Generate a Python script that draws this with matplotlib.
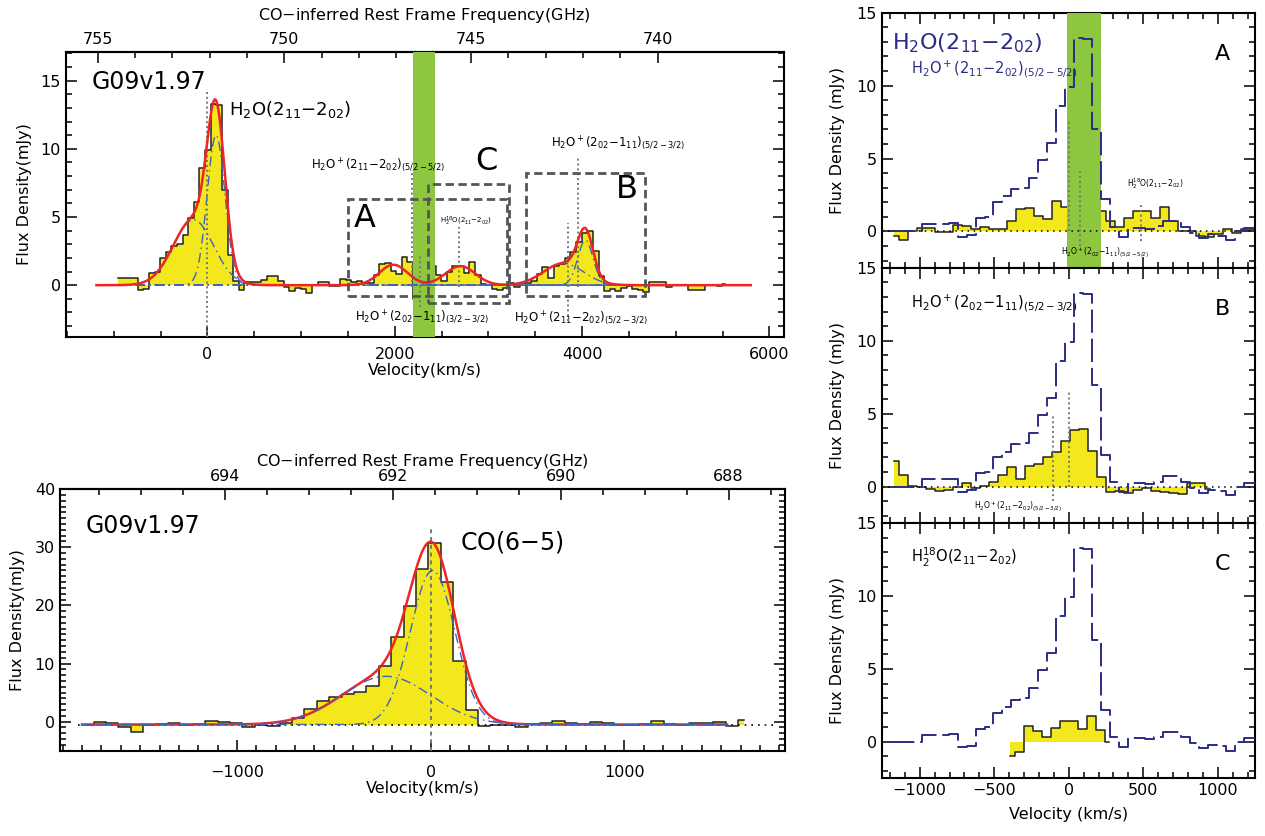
import numpy as np
import matplotlib
matplotlib.use('Agg')
import matplotlib.pyplot as plt
from matplotlib.patches import Rectangle
from matplotlib.ticker import MultipleLocator, FixedLocator

plt.rcParams['font.family'] = ['DejaVu Sans']
plt.rcParams['mathtext.fontset'] = 'dejavusans'

# ---------------- data ----------------
# H2O(2_11-2_02) spectrum of G09v1.97, channel centres every 60 km/s
h2o_vel = 5 + 60 * np.arange(-20, 93)
h2o_flux = np.array([
    0, 0, 0, 0, 0.5, 0.5, 0.5, 0.55, -0.35, -0.25,
    0.9, 1.0, 2.0, 2.4, 2.9, 3.0, 3.7, 4.9, 6.1, 8.6,
    9.9, 13.3, 13.2, 7.0, 2.2, 0.3, -0.35, 0.25, 0.25, 0.2,
    0.35, 0.7, 0.7, 0.3, -0.1, -0.45, -0.2, -0.3, -0.6, 0.0,
    0.25, 0.25, -0.05, -0.05, 0.45, 0.4, 0.2, 0.3, 0.15, 0.15,
    0.75, 1.55, 1.6, 1.05, 0.85, 2.1, 1.7, -1.0, -0.7, -0.35,
    1.4, 0.75, 0.3, 0.95, 1.4, 1.4, 0.9, 1.7, 0.75, 0.05,
    0.0, -0.3, -0.35, -0.2, 0.15, -0.1, 0.15, 0.15, 0.3, 0.8,
    1.33, 0.53, 1.42, 1.55, 2.0, 2.4, 3.15, 3.85, 3.95, 2.47,
    0.64, -0.4, -0.27, -0.45, -0.23, -0.07, -0.27, -0.35, -0.5, 0.23,
    0.23, 0.2, -0.1, 0.0, 0.0, 0.0, -0.35, -0.35, -0.35, 0.0,
    0.0, -0.05, 0.12])

# zoomed spectra, velocity relative to each line
a_vel = -20.75 + 60.5 * np.arange(-19, 22)
a_flux = [-0.3, -0.6, 0.0, 0.25, 0.25, -0.05, -0.05, 0.45, 0.4, 0.2,
          0.3, 0.15, 0.15, 0.75, 1.55, 1.6, 1.05, 0.85, 2.1, 1.7,
          -1.0, -0.7, -0.35, 1.4, 0.75, 0.3, 0.95, 1.4, 1.4, 0.9,
          1.7, 0.75, 0.05, 0.0, -0.3, -0.35, -0.2, 0.15, -0.1, 0.15, 0.15]
b_vel = -1170.75 + 60.5 * np.arange(36)
b_flux = [1.76, 0.8, 0.07, 0.0, -0.15, -0.27, -0.2, -0.05, 0.23, -0.1,
          0.07, 0.3, 0.8, 1.33, 0.53, 1.42, 1.55, 2.0, 2.4, 3.15,
          3.85, 3.95, 2.47, 0.64, -0.4, -0.27, -0.45, -0.23, -0.07, -0.27,
          -0.35, -0.45, -0.53, 0.23, 0.23, -0.15]
c_vel = -393 + 60.5 * np.arange(12)
c_flux = [-1.0, -0.7, 1.1, 0.75, 0.3, 0.95, 1.4, 1.4, 0.9, 1.75, 0.8, 0.0]

# CO(6-5) spectrum, channel centres every 64 km/s
co_vel = 20 + 64 * np.arange(-28, 26)
co_flux = [-0.5, 0.0, -0.3, -1.0, -1.7, -0.5, -0.45, -0.3, -0.5, -0.35,
           0.1, 0.0, -0.3, -0.85, -0.5, -0.7, -0.2, 0.7, 2.2, 3.5,
           4.3, 4.8, 5.1, 6.2, 9.5, 14.5, 19.9, 26.3, 30.8, 24.0,
           10.4, 2.0, -0.75, -0.5, -0.5, -0.85, -0.4, -0.3, 0.1, -0.3,
           -0.35, -0.1, -0.3, -0.5, -0.5, -0.4, 0.05, -0.4, -0.5, -0.3,
           -0.3, 0.0, -0.8, 0.3]

# gaussian fit components: centre (km/s), peak (mJy), sigma (km/s)
h2o_fit_cen = [-150, 92, 1985, 2700, 3800, 4035]
h2o_fit_amp = [4.8, 11.0, 1.5, 1.4, 1.6, 3.3]
h2o_fit_sig = [215, 95, 150, 160, 215, 82]
co_fit_cen = [-230, 10]
co_fit_amp = [8.3, 26.5]
co_fit_sig = [230, 115]
co_base = -0.5

# rest frequencies used for the top axes (GHz)
f0_h2o = 752.06
f0_co = 691.548
c_kms = 299792.458
freq_ticks_h2o = [755, 750, 745, 740]
freq_ticks_co = [694, 692, 690, 688]

YELLOW = '#f2e81c'
GREEN = '#8dc63f'
RED = '#ee2427'
BLUE = '#3f62c0'
NAVY = '#2b2d84'
GREY = '#777777'

FS = 11.5


def gauss(v, c, a, s):
    return a * np.exp(-0.5 * ((v - c) / s) ** 2)


def spectrum(ax, v, f, base=0.0):
    ax.fill_between(v, f, base, step='mid', color=YELLOW, lw=0, zorder=1)
    ax.plot(v, f, drawstyle='steps-mid', color='#222222', lw=1.1, zorder=2)


def style(ax):
    for s in ax.spines.values():
        s.set_linewidth(1.5)
    ax.tick_params(which='both', direction='in', labelsize=FS, width=1.1)
    ax.tick_params(which='major', length=8)
    ax.tick_params(which='minor', length=4)


fig = plt.figure(figsize=(12.65, 8.36), dpi=100)

# ---------------- top-left: H2O spectrum ----------------
ax1 = fig.add_axes([0.0518, 0.5969, 0.5676, 0.3409])
m = h2o_vel > -990
spectrum(ax1, h2o_vel[m], h2o_flux[m])
ax1.axvspan(2190, 2430, color=GREEN, lw=0, zorder=3)

vfit = np.linspace(-1185, 5800, 2000)
comps = [gauss(vfit, c, a, s) for c, a, s in zip(h2o_fit_cen, h2o_fit_amp, h2o_fit_sig)]
for comp in comps:
    ax1.plot(vfit, comp, color=BLUE, lw=1.0, ls=(0, (7, 3, 1, 3)), zorder=4)
ax1.plot(vfit, np.sum(comps, axis=0), color=RED, lw=1.8, zorder=5)

for v, y0, y1 in [(0, -3.8, 14.4), (2187, -0.1, 8.45), (2272, -1.6, 2.2),
                  (2688, -0.15, 4.3), (3957, -0.1, 9.4), (3851, -2.6, 4.55)]:
    ax1.vlines(v, y0, y1, colors=GREY, linestyles=(0, (1, 1.5)), lw=1.4, zorder=4)

for (x0, y0, x1, y1) in [(1504, -0.8, 3200, 6.3), (2357, -1.3, 3221, 7.4), (3403, -0.8, 4672, 8.2)]:
    ax1.add_patch(Rectangle((x0, y0), x1 - x0, y1 - y0, fill=False, ec='#555555',
                            lw=2, ls=(0, (3, 1.6)), zorder=6))

ax1.text(-1237, 14.9, 'G09v1.97', fontsize=17, va='center', ha='left')
ax1.text(235, 12.9, r'H$_2$O(2$_{11}$$-$2$_{02}$)', fontsize=13, va='center')
ax1.text(1110, 8.8, r'H$_2$O$^+$(2$_{11}$$-$2$_{02}$)$_{(5/2-5/2)}$', fontsize=8.5, va='center')
ax1.text(1580, -2.35, r'H$_2$O$^+$(2$_{02}$$-$1$_{11}$)$_{(3/2-3/2)}$', fontsize=8.5, va='center')
ax1.text(2485, 4.7, r'H$_2^{18}$O(2$_{11}$$-$2$_{02}$)', fontsize=5, va='center')
ax1.text(3670, 10.45, r'H$_2$O$^+$(2$_{02}$$-$1$_{11}$)$_{(5/2-3/2)}$', fontsize=8.5, va='center')
ax1.text(3275, -2.4, r'H$_2$O$^+$(2$_{11}$$-$2$_{02}$)$_{(5/2-3/2)}$', fontsize=8.5, va='center')
ax1.text(1675, 4.9, 'A', fontsize=23, ha='center', va='center', zorder=7)
ax1.text(2976, 9.05, 'C', fontsize=23, ha='center', va='center', zorder=7)
ax1.text(4480, 7.0, 'B', fontsize=23, ha='center', va='center', zorder=7)

ax1.set_xlim(-1515, 6150)
ax1.set_ylim(-3.8, 17.1)
ax1.xaxis.set_major_locator(MultipleLocator(2000))
ax1.xaxis.set_minor_locator(MultipleLocator(500))
ax1.yaxis.set_major_locator(MultipleLocator(5))
ax1.yaxis.set_minor_locator(MultipleLocator(1))
style(ax1)
ax1.tick_params(which='both', right=True, top=False)
ax1.tick_params(axis='x', pad=7)
ax1.set_xlabel('Velocity(km/s)', fontsize=FS, labelpad=1)
ax1.set_ylabel('Flux Density(mJy)', fontsize=FS, labelpad=6)

sec1 = ax1.secondary_xaxis('top', functions=(lambda v: f0_h2o * (1 - v / c_kms),
                                               lambda f: c_kms * (1 - f / f0_h2o)))
sec1.xaxis.set_major_locator(FixedLocator(freq_ticks_h2o))
sec1.xaxis.set_minor_locator(FixedLocator(np.arange(741, 756, 1)))
style(sec1)
sec1.set_xlabel('CO$-$inferred Rest Frame Frequency(GHz)', fontsize=FS, labelpad=9)

# ---------------- bottom-left: CO spectrum ----------------
ax2 = fig.add_axes([0.0474, 0.1020, 0.5731, 0.3130])
spectrum(ax2, co_vel, co_flux, base=co_base)
ax2.hlines(co_base, -1820, 1766, colors='k', linestyles=(0, (1, 3)), lw=1.2, zorder=3)
ax2.vlines(0, -5, 33.4, colors=GREY, linestyles=(0, (2, 2)), lw=1.4, zorder=3)

vco = np.linspace(-1800, 1530, 1500)
co_comps = [co_base + gauss(vco, c, a, s) for c, a, s in zip(co_fit_cen, co_fit_amp, co_fit_sig)]
ax2.plot(vco, co_base + np.sum([cc - co_base for cc in co_comps], axis=0), color=RED, lw=1.8, zorder=4)
for comp in co_comps:
    ax2.plot(vco, comp, color=BLUE, lw=1.0, ls=(0, (7, 3, 1, 3)), zorder=5)

ax2.text(-1780, 33.7, 'G09v1.97', fontsize=17, va='center')
ax2.text(151, 30.9, 'CO(6$-$5)', fontsize=17, va='center')

ax2.set_xlim(-1914, 1829)
ax2.set_ylim(-5, 40)
ax2.xaxis.set_major_locator(MultipleLocator(1000))
ax2.xaxis.set_minor_locator(MultipleLocator(100))
ax2.yaxis.set_major_locator(MultipleLocator(10))
ax2.yaxis.set_minor_locator(MultipleLocator(1))
style(ax2)
ax2.tick_params(which='both', right=True, top=False)
ax2.tick_params(axis='x', pad=10)
ax2.set_xlabel('Velocity(km/s)', fontsize=FS, labelpad=1)
ax2.set_ylabel('Flux Density(mJy)', fontsize=FS, labelpad=7)

sec2 = ax2.secondary_xaxis('top', functions=(lambda v: f0_co * (1 - v / c_kms),
                                               lambda f: c_kms * (1 - f / f0_co)))
sec2.xaxis.set_major_locator(FixedLocator(freq_ticks_co))
sec2.xaxis.set_minor_locator(FixedLocator(np.arange(687.5, 696, 0.5)))
style(sec2)
sec2.set_xlabel('CO$-$inferred Rest Frame Frequency(GHz)', fontsize=FS, labelpad=2)

# ---------------- right: panels A, B, C ----------------
axA = fig.add_axes([0.6970, 0.6795, 0.2951, 0.3053])
axB = fig.add_axes([0.6970, 0.3743, 0.2951, 0.3053])
axC = fig.add_axes([0.6970, 0.0690, 0.2951, 0.3053])

spectrum(axA, a_vel, a_flux)
axA.axvspan(-11, 217, color=GREEN, lw=0, zorder=3)
spectrum(axB, b_vel, b_flux)
spectrum(axC, c_vel, c_flux)

tm = np.abs(h2o_vel) < 1300
for ax in (axA, axB, axC):
    ax.plot(h2o_vel[tm], h2o_flux[tm], drawstyle='steps-mid', color=NAVY, lw=1.4,
            ls=(0, (12, 3)), zorder=5)
for ax in (axA, axB):
    ax.axhline(0, color='k', ls=(0, (1, 3)), lw=1.1, zorder=4)

for v, y0, y1 in [(0, 0.05, 7.5), (78, -1.0, 4.3), (485, -0.65, 2.0)]:
    axA.vlines(v, y0, y1, colors=GREY, linestyles=(0, (1, 1.5)), lw=1.4, zorder=4)
for v, y0, y1 in [(-107, -1.0, 5.0), (0, 0.0, 6.6)]:
    axB.vlines(v, y0, y1, colors=GREY, linestyles=(0, (1, 1.5)), lw=1.4, zorder=4)

axA.text(-1183, 12.9, r'H$_2$O(2$_{11}$$-$2$_{02}$)', color=NAVY, fontsize=16, va='center')
axA.text(-1056, 11.2, r'H$_2$O$^+$(2$_{11}$$-$2$_{02}$)$_{(5/2-5/2)}$', color=NAVY, fontsize=10.5, va='center')
axA.text(388, 3.3, r'H$_2^{18}$O(2$_{11}$$-$2$_{02}$)', fontsize=5.5, va='center', zorder=6)
axA.text(-49, -1.45, r'H$_2$O$^+$(2$_{02}$$-$1$_{11}$)$_{(5/2-5/2)}$', fontsize=5.5, va='center', zorder=6)
axB.text(-1056, 12.6, r'H$_2$O$^+$(2$_{02}$$-$1$_{11}$)$_{(5/2-3/2)}$', fontsize=10.5, va='center')
axB.text(-633, -1.4, r'H$_2$O$^+$(2$_{11}$$-$2$_{02}$)$_{(5/2-3/2)}$', fontsize=5.5, va='center')
axC.text(-1056, 12.65, r'H$_2^{18}$O(2$_{11}$$-$2$_{02}$)', fontsize=10.5, va='center')
for ax, lab in ((axA, 'A'), (axB, 'B'), (axC, 'C')):
    ax.text(1032, 12.2, lab, fontsize=16, ha='center', va='center')

for ax in (axA, axB, axC):
    ax.set_xlim(-1255, 1250)
    ax.set_ylim(-2.5, 15)
    ax.xaxis.set_major_locator(MultipleLocator(500))
    ax.xaxis.set_minor_locator(MultipleLocator(100))
    ax.yaxis.set_major_locator(MultipleLocator(5))
    ax.yaxis.set_minor_locator(MultipleLocator(1))
    style(ax)
    ax.tick_params(which='both', top=True, right=True)
    ax.set_ylabel('Flux Density (mJy)', fontsize=FS, labelpad=8)
for ax in (axA, axB):
    ax.tick_params(labelbottom=False)
axC.set_xlabel('Velocity (km/s)', fontsize=FS, labelpad=6)

fig.savefig('out.png', dpi=100)
